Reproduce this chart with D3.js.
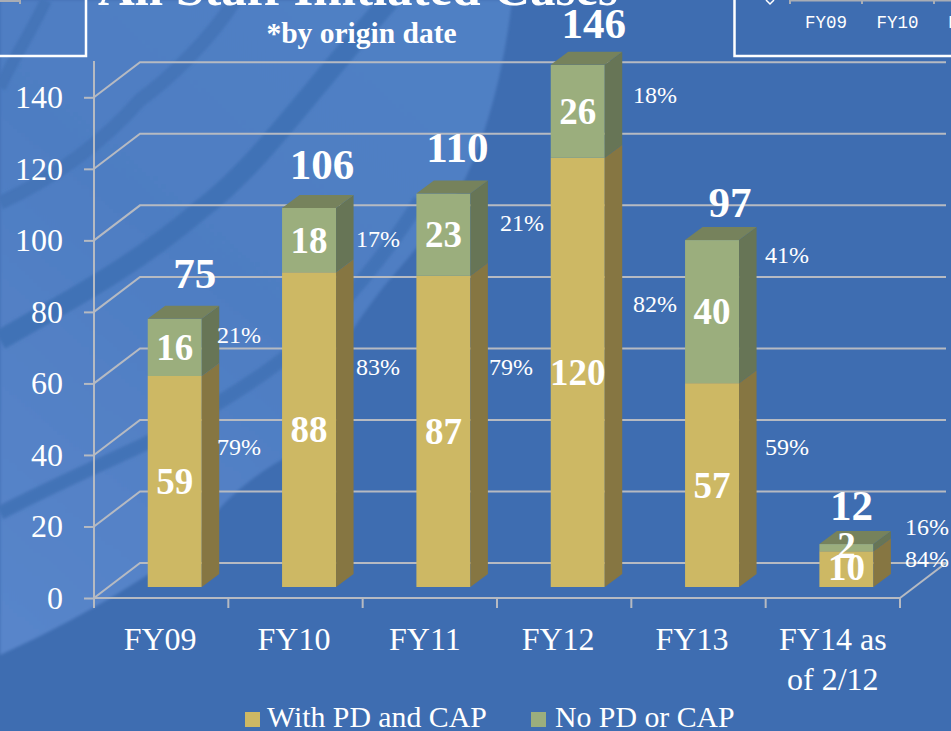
<!DOCTYPE html>
<html><head><meta charset="utf-8">
<script src="https://cdn.jsdelivr.net/npm/d3@7/dist/d3.min.js"></script>
<style>html,body{margin:0;padding:0;background:#3d6cb0;overflow:hidden}svg{display:block}
text{font-family:"Liberation Serif",serif}</style></head><body>
<svg id="c" width="951" height="731"></svg>
<script>
const categories = ["FY09","FY10","FY11","FY12","FY13","FY14 as|of 2/12"];
const withPD = [59,88,87,120,57,10];
const noPD = [16,18,23,26,40,2];
const totals = [75,106,110,146,97,12];
const pctWith = ["79%","83%","79%","82%","59%","84%"];
const pctNo = ["21%","17%","21%","18%","41%","16%"];
const yTicks = [0,20,40,60,80,100,120,140];
const legendNames = ["With PD and CAP","No PD or CAP"];
const insetLabels = ["FY09","FY10","FY11"];

// layout, separate from the data (hand-placed labels in the original)
const pctWithPos = [[239,447],[378,367],[511,367],[655,304],[787,447],[927,559]];
const pctNoPos = [[239,335],[378,239],[522,223],[655,95],[787,255],[927,527]];
const totalNudge = [[20,-45],[13,-43],[14,-46],[16,-41],[18,-38],[5,-39]];
const innerNudge = [[0,0],[0,0],[0,0],[0,0],[0,0],[0,-2]];
const catNudge = [-1,-1.5,-5,-6,-6.5,0];

const svg = d3.select("#c");
const defs = svg.append("defs");
const bg = defs.append("linearGradient").attr("id","bg").attr("gradientUnits","userSpaceOnUse")
  .attr("x1",0).attr("y1",640).attr("x2",480).attr("y2",60);
bg.append("stop").attr("offset",0).attr("stop-color","#5885ca");
bg.append("stop").attr("offset",0.55).attr("stop-color","#4e7dc2");
bg.append("stop").attr("offset",1).attr("stop-color","#5080c4");
defs.append("filter").attr("id","soft").attr("x","-20%").attr("y","-20%").attr("width","140%").attr("height","140%")
  .append("feGaussianBlur").attr("stdDeviation",1.6);
const lightD = "M0,0 L512,0 C505,60 490,130 462,185 C430,240 380,300 300,452 C300,452 230,490 150,585 C100,610 50,632 0,655 Z";
defs.append("clipPath").attr("id","lightClip").append("path").attr("d",lightD);
svg.append("rect").attr("width",951).attr("height",731).attr("fill","#3e6db1");
svg.append("path").attr("fill","url(#bg)").attr("filter","url(#soft)")
  .attr("d","M0,0 L512,0 C505,60 490,130 462,185 C440,222 415,250 385,285 C350,330 310,390 300,450 C260,470 225,495 190,545 C130,590 60,628 0,655 Z");
// darker arcs in the backdrop
const arc = svg.append("g").attr("fill","none").attr("stroke","#4474b8").attr("filter","url(#soft)");
arc.append("path").attr("stroke-width",12).attr("d","M0,88 C12,60 30,35 46,0");
arc.append("path").attr("stroke-width",14).attr("d","M0,203 C60,175 105,140 140,100 C170,78 210,40 235,0");
arc.append("path").attr("stroke-width",20).attr("stroke","#4172b6").attr("d","M0,340 C60,305 130,270 200,210 C260,165 310,90 390,0");
arc.append("path").attr("stroke-width",14).attr("stroke","#4373b7").attr("d","M0,513 C50,487 100,465 147,443 C200,415 260,380 300,345 C340,310 390,250 420,200");

// scales
const y = d3.scaleLinear().domain([0,140]).range([598,97.3]);
const slot = d3.scaleBand().domain(categories).range([94,900]);
const dx = 46, dy = -35;      // wall depth
const floorOff = -11;         // bar front sits this far behind the front axis
const bdx = 17.5, bdy = -13;  // bar depth
const gridCol = "#b6bac2";

// gridlines
const grid = svg.append("g").attr("fill","none").attr("stroke",gridCol).attr("stroke-width",2);
grid.selectAll("path").data(yTicks).join("path")
  .attr("d",v=>d3.line()([[94,y(v)],[94+dx,y(v)+dy],[900+dx,y(v)+dy]]));
grid.append("path").attr("d",d3.line()([[900,y(0)],[900+dx,y(0)+dy]]));

// axes
const axY = svg.append("g").attr("transform","translate(94,0)")
  .call(d3.axisLeft(y).tickValues(yTicks).tickSize(10).tickPadding(21));
axY.select(".domain").attr("d","M0,608V61");
const axX = svg.append("g").attr("transform","translate(0,"+y(0)+")")
  .call(d3.axisBottom(slot).tickSize(0).tickFormat(""));
axX.select(".domain").attr("d","M94,0H900");
const xTicks = categories.map((c,i)=>94+i*slot.step()).concat([900]);
axX.selectAll(".xt").data(xTicks).join("line").attr("class","xt")
  .attr("x1",d=>d).attr("x2",d=>d).attr("y1",0).attr("y2",10);
svg.selectAll(".domain,.tick line,.xt").attr("stroke",gridCol).attr("stroke-width",2);
axY.selectAll("text").attr("fill","#fff").attr("font-size",32).attr("font-family","Liberation Serif");

// bars
const yBar = v => y(v)+floorOff;
const colours = {
  w:{front:"#cdb864",side:"#867642",top:"#867642"},
  n:{front:"#9bae7d",side:"#677556",top:"#76825c"}
};
function box(g,px,w,v0,v1,c,withTop){
  g.append("rect").attr("x",px).attr("y",yBar(v1)).attr("width",w).attr("height",yBar(v0)-yBar(v1)).attr("fill",c.front);
  g.append("path").attr("fill",c.side).attr("d",d3.line()([[px+w,yBar(v0)],[px+w+bdx,yBar(v0)+bdy],[px+w+bdx,yBar(v1)+bdy],[px+w,yBar(v1)]])+"Z");
  if(withTop) g.append("path").attr("fill",c.top).attr("d",d3.line()([[px,yBar(v1)],[px+bdx,yBar(v1)+bdy],[px+w+bdx,yBar(v1)+bdy],[px+w,yBar(v1)]])+"Z");
}
const barW = 54;
categories.forEach((c,i)=>{
  const px = slot(c)+slot.step()*0.4;
  const g = svg.append("g");
  box(g,px,barW,0,withPD[i],colours.w,false);
  box(g,px,barW,withPD[i],totals[i],colours.n,true);
  const cx = px+barW/2;
  const lab = (t,v,nd,fs)=>svg.append("text").attr("x",cx+nd[0]).attr("y",yBar(v)+nd[1])
    .attr("text-anchor","middle").attr("dominant-baseline","central")
    .attr("fill","#fff").attr("font-size",fs).attr("font-weight","bold").text(t);
  lab(withPD[i],withPD[i]/2,innerNudge[i],37);
  lab(noPD[i],withPD[i]+noPD[i]/2,innerNudge[i],37);
  lab(totals[i],totals[i],totalNudge[i],43);
  const pct=(t,p)=>svg.append("text").attr("x",p[0]).attr("y",p[1]).attr("text-anchor","middle")
    .attr("dominant-baseline","central").attr("fill","#fff").attr("font-size",24).text(t);
  pct(pctWith[i],pctWithPos[i]); pct(pctNo[i],pctNoPos[i]);
  c.split("|").forEach((t,k)=>svg.append("text").attr("x",slot(c)+slot.step()/2+catNudge[i]).attr("y",650+k*40)
    .attr("text-anchor","middle").attr("fill","#fff").attr("font-size",32).text(t));
});

// title (cropped by the top edge in the reference)
svg.append("text").attr("x",358).attr("y",5).attr("text-anchor","middle").attr("fill","#fff")
  .attr("font-size",51).attr("font-weight","bold").text("All Staff Initiated Cases");
svg.append("text").attr("x",361.5).attr("y",43).attr("text-anchor","middle").attr("fill","#fff")
  .attr("font-size",29.5).attr("font-weight","bold").text("*by origin date");

// inset boxes cropped at the edges
const bx = svg.append("g").attr("fill","none").attr("stroke","#fff").attr("stroke-width",2.5);
bx.append("path").attr("d","M-5,56H86V-5");
bx.append("path").attr("d","M734.5,-5V56H960");
const ins = svg.append("g");
ins.append("path").attr("stroke","#a9adb5").attr("stroke-width",2).attr("fill","none")
  .attr("d","M790,0.5H951M790,0V4M862,0V4M934,0V4M0,1H20M20,0V4");
insetLabels.forEach((t,i)=>ins.append("text").attr("x",826+i*71.5).attr("y",28).attr("text-anchor","middle")
  .attr("fill","#fff").attr("font-size",17.5).style("font-family","Liberation Mono").text(t));
ins.append("path").attr("fill","none").attr("stroke","#fff").attr("stroke-width",1.5).attr("d","M766,0L770,4L774,0");

// legend
const lg = [[245,267,colours.w.front],[531,555,colours.n.front]];
lg.forEach((d,i)=>{
  svg.append("rect").attr("x",d[0]).attr("y",712).attr("width",15).attr("height",15).attr("fill",d[2]);
  svg.append("text").attr("x",d[1]).attr("y",727).attr("fill","#fff").attr("font-size",29.8).text(legendNames[i]);
});
</script></body></html>
